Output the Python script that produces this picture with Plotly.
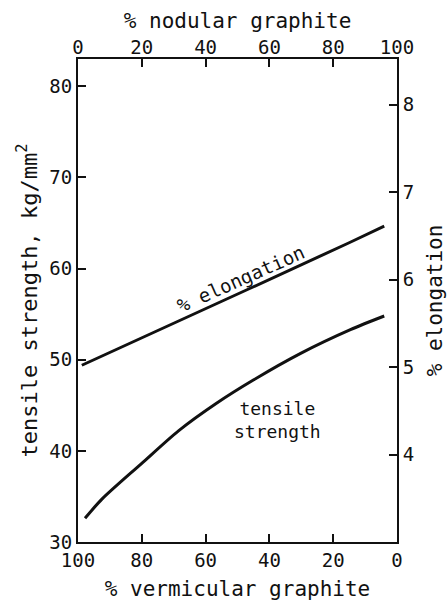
import plotly.graph_objects as go

# % nodular graphite (top axis) and values
tensile_nodular = [2.2, 7.5, 19.9, 31.5, 43.3, 55.1, 69.8, 85.4, 96.0]
tensile_strength = [32.6, 34.7, 38.6, 42.2, 45.2, 47.8, 50.7, 53.3, 54.8]

elong_nodular = [1.2, 23, 54, 85, 96]
elongation = [5.02, 5.38, 5.90, 6.42, 6.61]

nodular_ticks = [0, 20, 40, 60, 80, 100]
vermicular_ticks = [100, 80, 60, 40, 20, 0]
tensile_ticks = [30, 40, 50, 60, 70, 80]
elong_ticks = [4, 5, 6, 7, 8]

FONT = "DejaVu Sans Mono"
BLACK = "#111111"

fig = go.Figure()
fig.add_trace(go.Scatter(x=tensile_nodular, y=tensile_strength, xaxis="x2", yaxis="y",
                         mode="lines", line=dict(color=BLACK, width=3, shape="spline", smoothing=0.8),
                         showlegend=False, hoverinfo="skip"))
fig.add_trace(go.Scatter(x=elong_nodular, y=elongation, xaxis="x2", yaxis="y2",
                         mode="lines", line=dict(color=BLACK, width=3),
                         showlegend=False, hoverinfo="skip"))
# invisible trace to anchor bottom axis
fig.add_trace(go.Scatter(x=[100 - v for v in tensile_nodular], y=tensile_strength,
                         xaxis="x", yaxis="y", mode="lines", line=dict(width=0),
                         opacity=0, showlegend=False, hoverinfo="skip"))

axis_common = dict(showgrid=False, zeroline=False, showline=True, linecolor=BLACK,
                   linewidth=2, ticks="inside", ticklen=8, tickwidth=2, tickcolor=BLACK,
                   automargin=False,
                   tickfont=dict(family=FONT, size=19, color=BLACK))
title_font = dict(family=FONT, size=21, color=BLACK)

fig.update_layout(
    width=447, height=602,
    margin=dict(l=78, r=50, t=59, b=60),
    paper_bgcolor="white", plot_bgcolor="white",
    xaxis=dict(range=[100, 0], tickvals=vermicular_ticks, side="bottom", anchor="y",
               title=dict(text="% vermicular graphite", font=title_font, standoff=12),
               **axis_common),
    xaxis2=dict(range=[0, 100], tickvals=nodular_ticks, side="top", overlaying="x", anchor="y",
                ticklabelstandoff=-5,
                title=dict(text="% nodular graphite", font=title_font, standoff=2),
                **axis_common),
    yaxis=dict(range=[30, 83], tickvals=tensile_ticks, side="left", anchor="x",
               title=dict(text="tensile strength, kg/mm<sup>2</sup>",
                          font=dict(family=FONT, size=22, color=BLACK), standoff=6),
               **axis_common),
    yaxis2=dict(range=[3, 8.52], tickvals=elong_ticks, side="right", overlaying="y", anchor="x",
                title=dict(text="% elongation", font=title_font, standoff=18),
                **axis_common),
    annotations=[
        dict(text="% elongation", x=50.8, y=58.9, xref="x2", yref="y",
             showarrow=False, textangle=-24, font=dict(family=FONT, size=19, color=BLACK)),
        dict(text="tensile<br>strength", x=62.5, y=43.4, xref="x2", yref="y",
             showarrow=False, align="center", font=dict(family=FONT, size=18, color=BLACK)),
    ],
)

fig.write_html("out.html")
